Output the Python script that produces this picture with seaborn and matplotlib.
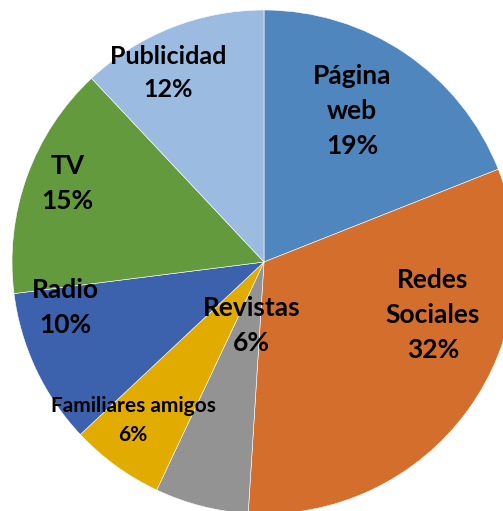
import matplotlib
matplotlib.use('Agg')
import matplotlib.pyplot as plt
import seaborn as sns

# Slice data, clockwise from 12 o'clock
categories = ['Página\nweb', 'Redes\nSociales', 'Revistas', 'Familiares amigos',
              'Radio', 'TV', 'Publicidad']
shares = [19, 32, 6, 6, 10, 15, 12]
colors = ['#4F86BD', '#D46E2D', '#939393', '#E2AB00', '#3C61AD', '#649A3E', '#9BBBE0']

# label placement (axes data units) and font sizes
label_pos = [(0.35, 0.60), (0.67, -0.21), (-0.05, -0.25), (-0.52, -0.63),
             (-0.79, -0.18), (-0.78, 0.31), (-0.38, 0.75)]
label_size = [19, 19, 19, 15, 19, 19, 18]

sns.set_style('white')
plt.rcParams['font.family'] = ['Lato', 'DejaVu Sans']

fig = plt.figure(figsize=(5.03, 5.11), dpi=100)
W, H = 503, 511
cx, cy, r = 264, 262, 252
ax = fig.add_axes([(cx - r) / W, (H - cy - r) / H, 2 * r / W, 2 * r / H])

palette = sns.color_palette(colors)
ax.pie(shares, colors=palette, startangle=90, counterclock=False, radius=1,
       wedgeprops=dict(edgecolor='white', linewidth=0.4))
ax.set_aspect('auto')
ax.set_xlim(-1, 1)
ax.set_ylim(-1, 1)
ax.axis('off')

for name, val, (x, y), fs in zip(categories, shares, label_pos, label_size):
    ax.text(x, y, f'{name}\n{val}%', ha='center', va='center', fontsize=fs,
            fontweight='bold', color='black', linespacing=1.55)

fig.savefig('out.png', dpi=100)
